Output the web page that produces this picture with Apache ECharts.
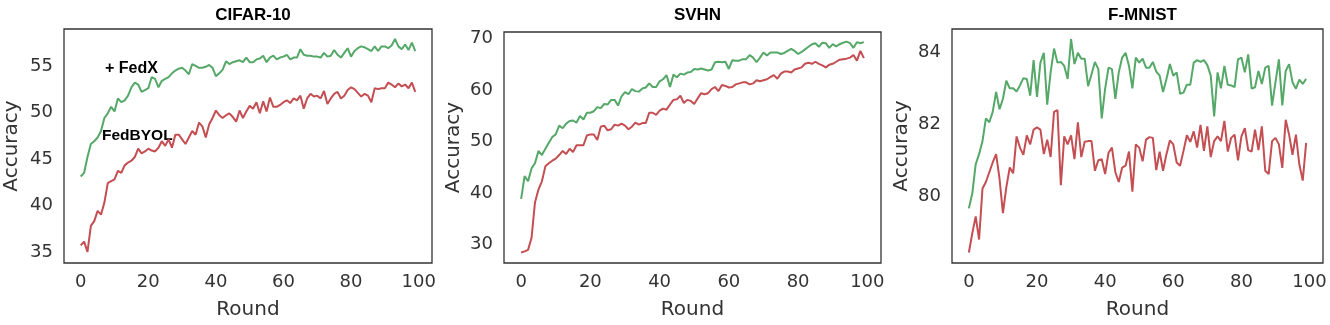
<!DOCTYPE html>
<html>
<head>
    <meta charset="utf-8">
    <title>FedX accuracy</title>
    <script src="https://cdn.jsdelivr.net/npm/echarts@6/dist/echarts.min.js"></script>
    <style>
        * { margin: 0; padding: 0 }
        #main { width: 1330px; height: 325px; background: #fff; }
    </style>
</head>
<body>
    <div id="main"></div>
    <script type="text/javascript">
        // 数据：每轮（0..99）的准确率
        var panelTitles = ['CIFAR-10', 'SVHN', 'F-MNIST'];
        var xTicks = [0, 20, 40, 60, 80, 100];
        var yTicks = [[35, 40, 45, 50, 55], [30, 40, 50, 60, 70], [80, 82, 84]];

        var cifarFedX = [43.1, 43.5, 45.2, 46.6, 46.9, 47.3, 48.0, 49.4, 49.9, 50.6,
            50.1, 51.5, 51.1, 51.3, 51.8, 52.7, 53.2, 53.0, 52.2, 52.4,
            52.6, 53.8, 53.6, 52.7, 53.4, 53.6, 53.8, 54.2, 54.5, 54.7,
            54.8, 54.5, 54.1, 55.2, 55.0, 54.8, 54.8, 54.9, 55.1, 54.8,
            53.9, 54.2, 54.6, 55.5, 55.2, 55.4, 55.5, 55.6, 55.4, 55.9,
            55.4, 55.4, 55.7, 55.8, 56.1, 55.4, 55.9, 56.1, 55.7, 55.9,
            56.0, 56.2, 55.7, 55.9, 55.9, 56.8, 56.2, 56.1, 56.1, 56.0,
            56.0, 55.9, 56.4, 56.0, 56.1, 56.7, 56.2, 55.9, 56.4, 56.9,
            56.0, 56.6, 56.9, 57.1, 57.0, 56.8, 56.6, 57.1, 56.6, 57.1,
            57.1, 56.9, 57.2, 57.9, 57.1, 56.8, 57.3, 56.7, 57.5, 56.6];
        var cifarFedBYOL = [35.7, 36.1, 35.0, 37.8, 38.3, 39.4, 39.0, 40.3, 42.4, 42.6,
            42.8, 43.7, 43.5, 44.3, 44.6, 44.8, 45.2, 46.1, 45.6, 45.8,
            46.1, 45.9, 45.8, 46.2, 46.9, 46.4, 47.1, 46.2, 47.6, 47.6,
            47.1, 46.6, 47.3, 48.0, 47.6, 48.9, 48.5, 47.3, 48.7, 49.4,
            50.2, 49.7, 49.4, 49.7, 49.9, 49.5, 49.0, 50.2, 49.4, 50.1,
            50.7, 50.4, 51.1, 49.9, 51.2, 50.1, 51.6, 50.6, 50.6, 50.8,
            51.1, 51.3, 51.0, 51.5, 51.3, 51.8, 50.4, 51.5, 52.0, 51.7,
            51.8, 51.5, 52.3, 50.9, 51.5, 52.0, 52.2, 51.5, 51.8, 52.4,
            52.7, 52.5, 52.1, 51.7, 52.0, 51.8, 51.1, 52.6, 52.5, 52.6,
            52.6, 53.2, 53.0, 52.7, 53.1, 52.8, 53.0, 52.6, 53.2, 52.2];

        var svhnFedX = [38.9, 43.3, 42.3, 44.8, 45.8, 48.2, 47.4, 48.6, 49.8, 50.9,
            51.4, 53.1, 52.6, 53.5, 54.0, 54.1, 53.7, 55.0, 54.3, 55.6,
            55.6, 55.9, 56.7, 56.5, 57.3, 57.2, 58.1, 58.1, 57.0, 58.8,
            59.6, 59.2, 60.2, 59.8, 59.7, 60.3, 60.5, 61.3, 60.6, 60.6,
            61.7, 62.1, 62.9, 60.6, 63.0, 62.5, 63.2, 63.0, 63.4, 63.5,
            64.1, 64.0, 64.2, 64.0, 63.8, 64.0, 65.4, 65.5, 65.4, 65.5,
            64.1, 65.8, 65.7, 65.7, 66.0, 66.0, 66.8, 66.3, 65.4, 66.3,
            67.3, 66.7, 67.3, 67.3, 67.3, 67.0, 67.2, 67.6, 68.0, 67.6,
            67.0, 67.4, 67.9, 68.4, 68.9, 69.1, 68.4, 69.2, 69.1, 68.2,
            68.9, 68.5, 68.9, 69.2, 69.4, 69.1, 68.2, 69.3, 69.1, 69.3];
        var svhnFedBYOL = [28.5, 28.7, 29.0, 31.3, 38.2, 40.7, 42.3, 45.2, 45.8, 46.3,
            46.7, 47.4, 48.2, 47.6, 48.6, 48.0, 49.3, 49.3, 49.3, 51.2,
            51.4, 51.4, 50.3, 52.9, 53.1, 52.2, 52.4, 53.3, 53.1, 53.5,
            53.1, 52.4, 52.9, 53.7, 53.3, 53.6, 53.6, 55.6, 55.6, 55.2,
            56.0, 56.4, 56.2, 57.2, 58.1, 58.2, 58.9, 57.5, 58.1, 57.9,
            57.3, 58.4, 59.4, 59.2, 59.4, 60.2, 60.6, 59.8, 61.0, 60.8,
            60.5, 60.6, 61.1, 61.3, 61.5, 61.5, 61.1, 61.3, 61.9, 61.7,
            61.9, 62.1, 62.5, 62.9, 62.2, 63.2, 63.6, 63.6, 63.4, 64.0,
            64.2, 64.4, 65.1, 65.3, 65.1, 65.5, 65.1, 64.8, 64.4, 64.9,
            65.1, 65.5, 65.9, 66.0, 66.1, 66.3, 66.8, 65.7, 67.6, 66.2];

        var fmnistFedX = [79.68, 80.09, 80.90, 81.18, 81.54, 82.17, 82.06, 82.35, 82.90, 82.42,
            82.71, 83.21, 83.00, 83.00, 82.91, 83.08, 83.28, 83.26, 82.80, 83.78,
            82.76, 83.71, 83.98, 82.55, 83.44, 84.10, 83.71, 83.73, 83.62, 83.26,
            84.36, 83.67, 83.98, 83.82, 83.82, 83.06, 83.39, 83.73, 83.53, 82.17,
            82.99, 83.57, 83.53, 82.71, 83.44, 83.85, 83.98, 83.62, 83.00, 83.85,
            83.71, 83.82, 83.57, 83.57, 83.73, 83.46, 83.35, 82.90, 83.26, 83.67,
            83.35, 83.44, 82.85, 82.88, 83.10, 83.10, 83.71, 83.78, 83.73, 83.78,
            83.64, 83.35, 82.22, 83.44, 83.00, 83.62, 83.10, 83.08, 83.03, 83.80,
            83.85, 83.44, 83.94, 82.99, 83.03, 83.48, 83.12, 83.57, 83.62, 82.52,
            83.17, 83.80, 82.53, 83.48, 83.67, 83.17, 82.99, 83.24, 83.12, 83.26];
        var fmnistFedBYOL = [78.46, 78.99, 79.46, 78.82, 80.23, 80.41, 80.68, 80.95, 81.18, 80.50,
            79.55, 80.27, 80.81, 80.65, 81.67, 81.36, 81.16, 81.70, 81.45, 81.86,
            81.92, 81.86, 81.18, 81.58, 81.10, 82.35, 82.40, 80.32, 81.67, 81.45,
            81.70, 81.04, 82.06, 81.10, 81.52, 81.54, 81.54, 80.72, 81.01, 81.04,
            80.63, 81.22, 81.36, 80.68, 80.41, 80.81, 80.86, 81.25, 80.14, 81.45,
            81.36, 80.98, 81.58, 81.65, 81.63, 80.74, 81.25, 80.72, 81.18, 81.56,
            81.45, 80.95, 80.86, 81.27, 81.70, 81.52, 81.81, 81.36, 81.99, 81.27,
            81.95, 81.10, 81.54, 81.67, 81.54, 82.10, 81.25, 81.63, 81.72, 81.01,
            81.67, 81.90, 81.29, 81.25, 81.86, 81.29, 81.95, 80.72, 80.63, 81.54,
            81.63, 81.45, 80.80, 82.13, 81.72, 81.16, 81.72, 80.90, 80.45, 81.49];

        var greenSeries = [cifarFedX, svhnFedX, fmnistFedX];
        var redSeries = [cifarFedBYOL, svhnFedBYOL, fmnistFedBYOL];

        // 布局
        var grids = [
            { left: 64, top: 29, width: 368, height: 239 },
            { left: 504, top: 32, width: 377, height: 236 },
            { left: 952, top: 29, width: 371, height: 238 }
        ];
        var yRanges = [[33.8, 58.97], [26.45, 71.27], [78.17, 84.64]];
        var nameGaps = [42, 40, 40];

        function pairs(arr) {
            return arr.map(function (v, i) { return [i, v]; });
        }

        var tickFont = { fontFamily: 'DejaVu Sans', fontSize: 18, color: '#333' };

        var option = {
            animation: false,
            backgroundColor: '#fff',
            title: panelTitles.map(function (t, i) {
                return {
                    text: t,
                    left: grids[i].left + grids[i].width / 2,
                    top: 2,
                    textAlign: 'center',
                    textStyle: { fontFamily: 'Liberation Sans', fontWeight: 'bold', fontSize: 17, color: '#000' }
                };
            }),
            grid: grids.map(function (g) {
                return Object.assign({ show: true, borderColor: '#333', borderWidth: 1.3, backgroundColor: '#fff' }, g);
            }),
            xAxis: grids.map(function (g, i) {
                return {
                    type: 'value', gridIndex: i, min: -4.95, max: 103.95,
                    name: 'Round', nameLocation: 'middle', nameGap: 37,
                    nameTextStyle: { fontFamily: 'DejaVu Sans', fontSize: 20, color: '#333' },
                    axisLine: { show: false }, axisTick: { show: false }, splitLine: { show: false },
                    axisLabel: Object.assign({ customValues: xTicks, margin: 10 }, tickFont)
                };
            }),
            yAxis: grids.map(function (g, i) {
                return {
                    type: 'value', gridIndex: i, min: yRanges[i][0], max: yRanges[i][1],
                    name: 'Accuracy', nameLocation: 'middle', nameGap: nameGaps[i],
                    nameTextStyle: { fontFamily: 'DejaVu Sans', fontSize: 20, color: '#333' },
                    axisLine: { show: false }, axisTick: { show: false }, splitLine: { show: false },
                    axisLabel: Object.assign({ customValues: yTicks[i], margin: 11 }, tickFont)
                };
            }),
            series: [],
            graphic: [
                { type: 'text', left: 105, top: 61, style: { text: '+ FedX', font: 'bold 16px "Liberation Sans"', fill: '#000' } },
                { type: 'text', left: 102, top: 128, style: { text: 'FedBYOL', font: 'bold 15.5px "Liberation Sans"', fill: '#000' } }
            ]
        };

        for (var i = 0; i < 3; i++) {
            option.series.push({
                type: 'line', xAxisIndex: i, yAxisIndex: i, data: pairs(greenSeries[i]),
                showSymbol: false, lineStyle: { color: '#55A868', width: 2 }, z: 3
            });
            option.series.push({
                type: 'line', xAxisIndex: i, yAxisIndex: i, data: pairs(redSeries[i]),
                showSymbol: false, lineStyle: { color: '#C44E52', width: 2 }, z: 3
            });
        }

        var myChart = echarts.init(document.getElementById('main'));
        myChart.setOption(option);
    </script>
</body>
</html>
